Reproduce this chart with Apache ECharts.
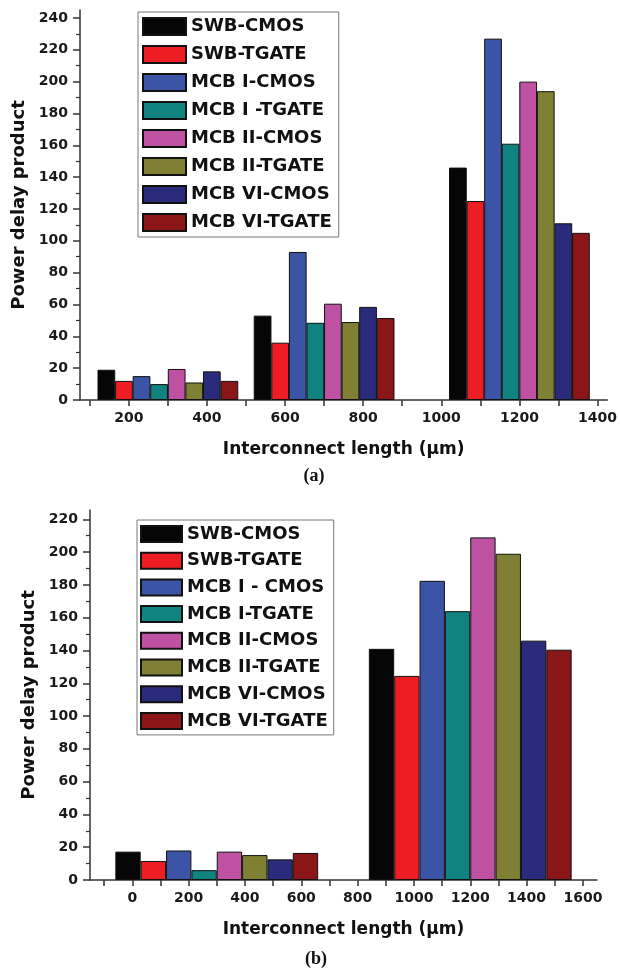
<!DOCTYPE html>
<html>
<head>
<meta charset="utf-8">
<script src="https://cdn.jsdelivr.net/npm/echarts@6/dist/echarts.min.js"></script>
<style>
  html, body { margin: 0; padding: 0; background: #fff; }
  #chart { width: 620px; height: 969px; }
</style>
</head>
<body>
<div id="chart"></div>
<script>
// panel (a): three groups of eight bars
var groupsA = [300, 700, 1200];
var namesA = ["SWB-CMOS", "SWB-TGATE", "MCB I-CMOS", "MCB I -TGATE",
  "MCB II-CMOS", "MCB II-TGATE", "MCB VI-CMOS", "MCB VI-TGATE"];
var swbCmosA = [19, 53, 146];
var swbTgateA = [12, 36, 125];
var mcb1CmosA = [15, 93, 227];
var mcb1TgateA = [10, 48.5, 161];
var mcb2CmosA = [19.5, 60.5, 200];
var mcb2TgateA = [11, 49, 194];
var mcb6CmosA = [18, 58.5, 111];
var mcb6TgateA = [12, 51.5, 105];

// panel (b): two groups of eight bars
var groupsB = [300, 1200];
var namesB = ["SWB-CMOS", "SWB-TGATE", "MCB I - CMOS", "MCB I-TGATE",
  "MCB II-CMOS", "MCB II-TGATE", "MCB VI-CMOS", "MCB VI-TGATE"];
var swbCmosB = [17.3, 141];
var swbTgateB = [11.6, 124.5];
var mcb1CmosB = [18, 182.5];
var mcb1TgateB = [6, 164];
var mcb2CmosB = [17.3, 209];
var mcb2TgateB = [15.2, 199];
var mcb6CmosB = [12.6, 146];
var mcb6TgateB = [16.5, 140.5];

// tick labels
var xLabelsA = [200, 400, 600, 800, 1000, 1200, 1400];
var xTicksA = [100, 200, 300, 400, 500, 600, 700, 800, 900, 1000, 1100, 1200, 1300, 1400];
var yLabelsA = [0, 20, 40, 60, 80, 100, 120, 140, 160, 180, 200, 220, 240];
var yMinorA = [10, 30, 50, 70, 90, 110, 130, 150, 170, 190, 210, 230];
var xLabelsB = [0, 200, 400, 600, 800, 1000, 1200, 1400, 1600];
var xTicksB = [-100, 0, 100, 200, 300, 400, 500, 600, 700, 800, 900, 1000, 1100, 1200, 1300, 1400, 1500, 1600];
var yLabelsB = [0, 20, 40, 60, 80, 100, 120, 140, 160, 180, 200, 220];
var yMinorB = [10, 30, 50, 70, 90, 110, 130, 150, 170, 190, 210];

var colors = ["#060606", "#ee1d23", "#3b54a5", "#10827f",
  "#bf51a2", "#7f8033", "#2a2b7b", "#8a1618"];

var valuesA = [swbCmosA, swbTgateA, mcb1CmosA, mcb1TgateA, mcb2CmosA, mcb2TgateA, mcb6CmosA, mcb6TgateA];
var valuesB = [swbCmosB, swbTgateB, mcb1CmosB, mcb1TgateB, mcb2CmosB, mcb2TgateB, mcb6CmosB, mcb6TgateB];

var gridA = { left: 80, top: 10, width: 532, height: 390 };
var gridB = { left: 90, top: 510, width: 507, height: 370 };
var rangeA = [75, 1425], rangeB = [-150, 1650];
var unitA = 45, unitB = 90; // bar width in axis units

var font = "DejaVu Sans";
var axisColor = "#333";
var plain = function(v) { return String(v); };

function makeSeries(names, values, groups, unit, grid, range, axisIndex) {
  var px = unit * grid.width / (range[1] - range[0]);
  return names.map(function(name, i) {
    return {
      name: name,
      type: "bar",
      xAxisIndex: axisIndex,
      yAxisIndex: axisIndex * 2,
      barWidth: px,
      barGap: "-100%",
      itemStyle: { color: colors[i], borderColor: "#111", borderWidth: 1 },
      data: values[i].map(function(v, k) {
        return [groups[k] + (i - 3.5) * unit, v];
      })
    };
  });
}

function xAxis(gridIndex, range, labels, ticks) {
  return {
    type: "value", gridIndex: gridIndex, min: range[0], max: range[1],
    name: "Interconnect length (\u00b5m)", nameLocation: "middle", nameGap: 41,
    nameTextStyle: { fontFamily: font, fontWeight: "bold", fontSize: 17, color: "#111" },
    axisLine: { onZero: false, lineStyle: { color: axisColor, width: 1.5 } },
    axisTick: { customValues: ticks, length: 6, lineStyle: { color: axisColor, width: 1.5 } },
    axisLabel: { customValues: labels, formatter: plain, margin: 11, fontFamily: font, fontWeight: "bold", fontSize: 14, color: "#1a1a1a" },
    splitLine: { show: false }
  };
}

function yAxes(gridIndex, max, labels, minor, gap) {
  return [{
    type: "value", gridIndex: gridIndex, min: 0, max: max, position: "left",
    name: "Power delay product", nameLocation: "middle", nameGap: gap,
    nameTextStyle: { fontFamily: font, fontWeight: "bold", fontSize: 18, color: "#111" },
    axisLine: { show: true, onZero: false, lineStyle: { color: axisColor, width: 1.5 } },
    axisTick: { show: true, customValues: labels, length: 7, lineStyle: { color: axisColor, width: 1.5 } },
    axisLabel: { customValues: labels, formatter: plain, margin: 12, fontFamily: font, fontWeight: "bold", fontSize: 14, color: "#1a1a1a" },
    splitLine: { show: false }
  }, {
    type: "value", gridIndex: gridIndex, min: 0, max: max, position: "left", offset: 0,
    axisLine: { show: false, onZero: false },
    axisTick: { show: true, customValues: minor, length: 4, lineStyle: { color: axisColor, width: 1.2 } },
    axisLabel: { show: false },
    splitLine: { show: false }
  }];
}

function legend(names, left, top, h, gap, pad) {
  return {
    data: names, orient: "vertical", left: left, top: top,
    icon: "rect", itemWidth: h === 17 ? 43 : 41, itemHeight: h, itemGap: gap,
    padding: pad, borderColor: "#777", borderWidth: 1, backgroundColor: "#fff",
    textStyle: { fontFamily: font, fontWeight: "bold", fontSize: 18, lineHeight: h, color: "#111" },
    selectedMode: false
  };
}

var chart = echarts.init(document.getElementById("chart"));
chart.setOption({
  backgroundColor: "#fff",
  animation: false,
  title: [
    { text: "(a)", left: 309, top: 462, textAlign: "center",
      textStyle: { fontFamily: "Liberation Serif", fontWeight: "bold", fontSize: 18, color: "#111" } },
    { text: "(b)", left: 311, top: 945, textAlign: "center",
      textStyle: { fontFamily: "Liberation Serif", fontWeight: "bold", fontSize: 18, color: "#111" } }
  ],
  grid: [gridA, gridB],
  legend: [
    legend(namesA, 138, 12, 17, 9, [5, 7, 5, 4]),
    legend(namesB, 137, 520, 16, 8.7, [5, 6, 5, 3])
  ],
  xAxis: [xAxis(0, rangeA, xLabelsA, xTicksA), xAxis(1, rangeB, xLabelsB, xTicksB)],
  yAxis: yAxes(0, 245, yLabelsA, yMinorA, 43).concat(yAxes(1, 225.7, yLabelsB, yMinorB, 45)),
  series: makeSeries(namesA, valuesA, groupsA, unitA, gridA, rangeA, 0)
    .concat(makeSeries(namesB, valuesB, groupsB, unitB, gridB, rangeB, 1))
});
</script>
</body>
</html>
